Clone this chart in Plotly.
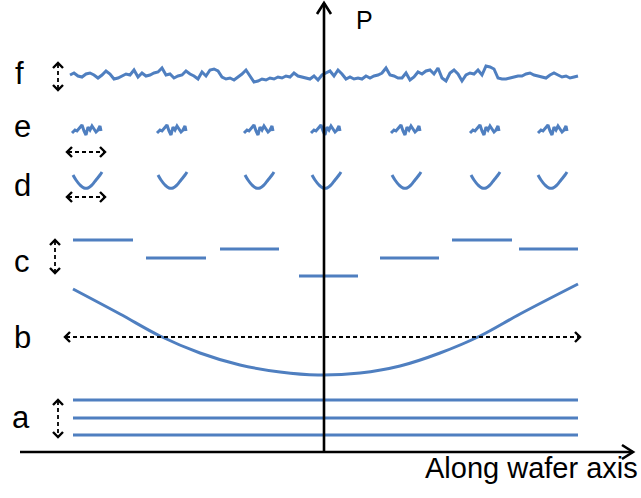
import plotly.graph_objects as go

BLUE = "#4F7FC0"
W, H = 641, 498

# ---- row labels ----
row_labels = ["f", "e", "d", "c", "b", "a"]
label_x = [19, 22, 22, 22, 22, 21]
label_y = [73, 126, 185, 261, 337, 417]

# ---- a: three flat levels ----
a_levels = [400, 418, 435]
a_span = [73, 578]

# ---- b: bowl profile (control points, smoothed by spline) ----
b_x = [73, 120, 160, 200, 240, 280, 318, 360, 400, 440, 480, 520, 578]
b_y = [289, 314, 336, 353, 365, 372, 375, 373, 366, 353, 336, 314, 284]

# ---- c: stepped segments ----
c_x0 = [73, 146, 220, 299, 380, 452, 519]
c_x1 = [133, 206, 279, 358, 439, 512, 578]
c_y = [240, 258, 249, 276, 258, 240, 249]

# ---- d: local dishes ----
d_x0 = [73, 158, 245, 312, 392, 471, 538]
d_dx = [0, 3, 7, 11, 15, 19, 23, 27, 29]
d_y = [175, 180, 185, 188, 188, 185, 180, 175, 172]

# ---- e: local roughness ----
e_x0 = [72, 157, 244, 311, 391, 470, 538]
e_dx = [0, 3, 5, 8, 10, 12, 14, 16, 18, 20, 22, 24, 26, 28, 29]
e_y = [133, 130, 131, 127, 125, 131, 135, 127, 130, 126, 129, 132, 130, 126, 131]

# ---- f: global noise ----
f_x0, f_step, f_base = 70, 4, 76
f_off = [1, 3, 0, -1, 2, 3, 1, -2, 1, 5, 2,
         -3, -2, 0, 2, 1, 6, -1, 3, 0, 1,
         3, 4, 8, 1, 2, -2, 0, 1, 5, 2,
         0, -3, 4, 0, 6, 7, 5, -1, -3, -2,
         -4, -1, 2, 6, 0, -6, -5, -3, -4, -2,
         -3, -1, -2, 0, -1, 3, 0, -1, -2, -3,
         0, -4, 1, 3, 5, 0, 6, 2, -3, -1,
         -3, -2, -3, 0, -2, 0, 1, 3, 8, 1,
         0, -2, -2, 3, -4, -1, 4, 2, 5, 6,
         2, 8, -2, -5, 3, 6, 2, -5, 1, 3,
         2, 6, 1, 10, 9, 7, -2, -3, -3, -2,
         -1, 0, 0, 2, 3, 1, 0, -1, -2, 1,
         3, 1, -1, 0, -2, -1, 0]

# ---- dimension arrows (dashed, double-headed): (x0, y0, x1, y1) ----
dim_arrows = [(58, 63, 58, 90),     # f
              (67, 152, 105, 152),  # e
              (67, 197, 105, 197),  # d
              (55, 240, 55, 273),   # c
              (65, 337, 580, 337),  # b
              (58, 400, 58, 437)]   # a

# ---- main axes: (x0, y0, x1, y1) tip at (x1, y1) ----
axis_v = (324, 452, 324, 3)
axis_h = (20, 452, 633, 452)


def chevron(tx, ty, ux, uy, L, Wd):
    nx, ny = -uy, ux
    return ([tx - L * ux + Wd * nx, tx, tx - L * ux - Wd * nx, None],
            [ty - L * uy + Wd * ny, ty, ty - L * uy - Wd * ny, None])


def unit(x0, y0, x1, y1):
    d = ((x1 - x0) ** 2 + (y1 - y0) ** 2) ** 0.5
    return (x1 - x0) / d, (y1 - y0) / d


fig = go.Figure()

blue_line = dict(color=BLUE, width=3)

# a
xs, ys = [], []
for lv in a_levels:
    xs += [a_span[0], a_span[1], None]
    ys += [lv, lv, None]
fig.add_trace(go.Scatter(x=xs, y=ys, mode="lines", line=blue_line))

# b
fig.add_trace(go.Scatter(x=b_x, y=b_y, mode="lines",
                         line=dict(color=BLUE, width=3, shape="spline")))

# c
xs, ys = [], []
for x0, x1, y in zip(c_x0, c_x1, c_y):
    xs += [x0, x1, None]
    ys += [y, y, None]
fig.add_trace(go.Scatter(x=xs, y=ys, mode="lines", line=blue_line))

# d
for x0 in d_x0:
    fig.add_trace(go.Scatter(x=[x0 + d for d in d_dx], y=d_y, mode="lines",
                             line=dict(color=BLUE, width=3, shape="spline")))

# e
for x0 in e_x0:
    fig.add_trace(go.Scatter(x=[x0 + d for d in e_dx], y=e_y, mode="lines",
                             line=dict(color=BLUE, width=3)))

# f
f_x = [f_x0 + i * f_step for i in range(len(f_off))]
f_y = [f_base - o for o in f_off]
fig.add_trace(go.Scatter(x=f_x, y=f_y, mode="lines",
                         line=dict(color=BLUE, width=3)))

# dimension arrows
sx, sy, hx, hy = [], [], [], []
for (x0, y0, x1, y1) in dim_arrows:
    ux, uy = unit(x0, y0, x1, y1)
    sx += [x0 + ux, x1 - ux, None]
    sy += [y0 + uy, y1 - uy, None]
    cx, cy = chevron(x1, y1, ux, uy, 5, 5)
    hx += cx; hy += cy
    cx, cy = chevron(x0, y0, -ux, -uy, 5, 5)
    hx += cx; hy += cy
fig.add_trace(go.Scatter(x=sx, y=sy, mode="lines",
                         line=dict(color="black", width=1.8, dash="4px,3px")))
fig.add_trace(go.Scatter(x=hx, y=hy, mode="lines",
                         line=dict(color="black", width=2.4)))

# main axes
ax, ay = [], []
for (x0, y0, x1, y1) in (axis_v, axis_h):
    ax += [x0, x1, None]
    ay += [y0, y1, None]
    ux, uy = unit(x0, y0, x1, y1)
    cx, cy = chevron(x1, y1, ux, uy, 11, 7)
    ax += cx; ay += cy
fig.add_trace(go.Scatter(x=ax, y=ay, mode="lines",
                         line=dict(color="black", width=2.6)))

# texts
FONT = "Liberation Sans, Arial, sans-serif"
for t, x, y in zip(row_labels, label_x, label_y):
    fig.add_annotation(x=x, y=y, text=t, showarrow=False,
                       font=dict(family=FONT, size=31, color="black"))
fig.add_annotation(x=364, y=20, text="P", showarrow=False,
                   font=dict(family=FONT, size=25, color="black"))
fig.add_annotation(x=640, y=468, text="Along wafer axis", showarrow=False,
                   xanchor="right", font=dict(family=FONT, size=29, color="black"))

fig.update_layout(
    width=W, height=H,
    margin=dict(l=0, r=0, t=0, b=0, pad=0),
    paper_bgcolor="white", plot_bgcolor="white", showlegend=False,
    xaxis=dict(range=[0, W], visible=False, fixedrange=True),
    yaxis=dict(range=[H, 0], visible=False, fixedrange=True),
)

# remove the page's default body margin so the figure fills the window exactly
fig.write_html("out.html", post_script="document.body.style.margin='0px';",
               config={"displayModeBar": False})
